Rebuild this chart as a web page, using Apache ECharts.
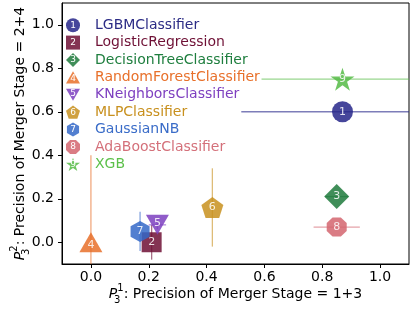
<!DOCTYPE html>
<html>
<head>
<meta charset="utf-8">
<script src="https://cdn.jsdelivr.net/npm/echarts@6/dist/echarts.min.js"></script>
<style>html,body{margin:0;padding:0;background:#fff}#c{width:415px;height:311px}</style>
</head>
<body>
<div id="c"></div>
<script>
// ---- data ----
const names = ['LGBMClassifier','LogisticRegression','DecisionTreeClassifier','RandomForestClassifier','KNeighborsClassifier','MLPClassifier','GaussianNB','AdaBoostClassifier','XGB'];
const precX = [0.87, 0.21, 0.85, 0.00, 0.23, 0.42, 0.17, 0.85, 0.87];
const precY = [0.60, 0.00, 0.21, 0.00, 0.08, 0.16, 0.05, 0.07, 0.75];
const errX  = [0.35, 0.00, 0.04, 0.00, 0.03, 0.00, 0.00, 0.08, 0.28];
const errY  = [0.00, 0.08, 0.00, 0.40, 0.02, 0.18, 0.09, 0.00, 0.00];
const tickVals = [0.0, 0.2, 0.4, 0.6, 0.8, 1.0];

// ---- styles ----
const colors = ['#26268a','#6e0f35','#1f7a3c','#e8702a','#7d3fc0','#c8901e','#3468c8','#d4656f','#55bb45'];
const textColors = ['#2b2b85','#6e1035','#1e7e3e','#e8702a','#7e40c0','#c8901e','#3a6cc8','#d4707a','#5cc04a'];
const symbols = [
  'circle',
  'rect',
  'path://M100,0 L200,100 L100,200 L0,100 Z',
  'path://M100,0 L200,173 L0,173 Z',
  'path://M0,0 L200,0 L100,173 Z',
  'path://M100,0 L195.1,69.1 L158.8,180.9 L41.2,180.9 L4.9,69.1 Z',
  'path://M86.6,0 L173.2,50 L173.2,150 L86.6,200 L0,150 L0,50 Z',
  'path://M61.7,7.6 L138.3,7.6 L192.4,61.7 L192.4,138.3 L138.3,192.4 L61.7,192.4 L7.6,138.3 L7.6,61.7 Z',
  'path://M100,0 L122.45,69.1 L195.1,69.1 L136.3,111.8 L158.8,180.9 L100,138.2 L41.2,180.9 L63.7,111.8 L4.9,69.1 L77.55,69.1 Z'
];
const sizes = [[21,21],[20,20],[25,25],[23,20],[23,20],[22,21],[19,21],[20,19],[24,23]];
const FONT = 'DejaVu Sans';
const XMIN = -0.1, XMAX = 1.1, YMIN = -0.1, YMAX = 1.1;

const chart = echarts.init(document.getElementById('c'), null, {renderer: 'canvas'});

const errData = names.map((n, i) => [precX[i], precY[i], errX[i], errY[i], i]);
const clampX = v => Math.max(XMIN, Math.min(XMAX, v));
const clampY = v => Math.max(YMIN, Math.min(YMAX, v));

const series = [{
  type: 'custom',
  z: 1,
  silent: true,
  data: errData,
  renderItem: function (params, api) {
    const x = api.value(0), y = api.value(1), xe = api.value(2), ye = api.value(3), i = api.value(4);
    const style = {stroke: colors[i], lineWidth: 1.3, opacity: 0.6};
    const ch = [];
    if (xe > 0) {
      const a = api.coord([clampX(x - xe), y]), b = api.coord([clampX(x + xe), y]);
      ch.push({type: 'line', shape: {x1: a[0], y1: a[1], x2: b[0], y2: b[1]}, style: style});
    }
    if (ye > 0) {
      const a = api.coord([x, clampY(y - ye)]), b = api.coord([x, clampY(y + ye)]);
      ch.push({type: 'line', shape: {x1: a[0], y1: a[1], x2: b[0], y2: b[1]}, style: style});
    }
    return {type: 'group', children: ch};
  }
}];

names.forEach((n, i) => {
  series.push({
    type: 'scatter',
    name: n,
    z: 2 + i * 0.01,
    data: [[precX[i], precY[i]]],
    symbol: symbols[i],
    symbolSize: sizes[i],
    symbolKeepAspect: false,
    itemStyle: {color: colors[i], opacity: 0.85},
    label: {show: true, position: 'inside', formatter: String(i + 1), color: '#fff', fontSize: 11, fontFamily: FONT, offset: i === 3 ? [0, 3] : (i === 4 ? [0, -2] : [0, 0])},
    emphasis: {disabled: true}
  });
});

const legTop = 16.5, legLeft = 66, legStep = 17.4, legIcon = 14;
const legendNums = names.map((n, i) => ({
  type: 'text',
  z: 100,
  x: legLeft + legIcon / 2,
  y: legTop + 8.7 + i * legStep + (i === 3 ? 1.5 : (i === 4 ? -1 : 0)),
  style: {text: String(i + 1), fill: '#fff', fontSize: 9, fontFamily: FONT, align: 'center', verticalAlign: 'middle'}
}));

const axisCommon = {
  type: 'value',
  splitLine: {show: false},
  axisLine: {show: true, onZero: false, lineStyle: {color: '#000', width: 1}},
  axisTick: {show: true, inside: false, length: 4, lineStyle: {color: '#000'}, customValues: tickVals},
  axisLabel: {color: '#000', fontSize: 14, fontFamily: FONT, customValues: tickVals, formatter: v => v.toFixed(1)},
  nameLocation: 'middle',
  nameMoveOverlap: false,
  nameTextStyle: {color: '#000', fontSize: 14, fontFamily: FONT}
};
const richName = {
  P: {fontStyle: 'italic', fontSize: 14, fontFamily: FONT, color: '#000', lineHeight: 22},
  sub: {fontSize: 10, fontFamily: FONT, color: '#000', lineHeight: 10, verticalAlign: 'bottom', width: 0.1},
  sup: {fontSize: 10, fontFamily: FONT, color: '#000', lineHeight: 10, verticalAlign: 'top'},
  t: {fontSize: 14, fontFamily: FONT, color: '#000', lineHeight: 22}
};

chart.setOption({
  animation: false,
  grid: {left: 62, right: 6, top: 3, bottom: 47, containLabel: false, outerBoundsMode: 'none', show: true, borderColor: '#000', borderWidth: 1, backgroundColor: 'transparent'},
  xAxis: Object.assign({}, axisCommon, {
    min: XMIN, max: XMAX,
    name: '{P|P}{sub|3}{sup|1}{t|: Precision of Merger Stage = 1+3}',
    nameGap: 19,
    nameTextStyle: Object.assign({}, axisCommon.nameTextStyle, {rich: richName}),
    axisLabel: Object.assign({}, axisCommon.axisLabel, {margin: 6})
  }),
  yAxis: Object.assign({}, axisCommon, {
    min: YMIN, max: YMAX,
    name: '{P|P}{sub|3}{sup|2}{t|: Precision of Merger Stage = 2+4}',
    nameGap: 31,
    nameTextStyle: Object.assign({}, axisCommon.nameTextStyle, {rich: richName}),
    axisLabel: Object.assign({}, axisCommon.axisLabel, {margin: 8})
  }),
  legend: {
    orient: 'vertical',
    left: legLeft, top: legTop,
    padding: 0,
    itemWidth: legIcon, itemHeight: legIcon, itemGap: 0,
    selectedMode: false,
    data: names.map((n, i) => ({name: n, icon: symbols[i], textStyle: {color: textColors[i]}})),
    textStyle: {fontSize: 14, fontFamily: FONT, lineHeight: 17.4, padding: [0, 0, 0, 10]}
  },
  graphic: legendNums,
  series: series
});
</script>
</body>
</html>
